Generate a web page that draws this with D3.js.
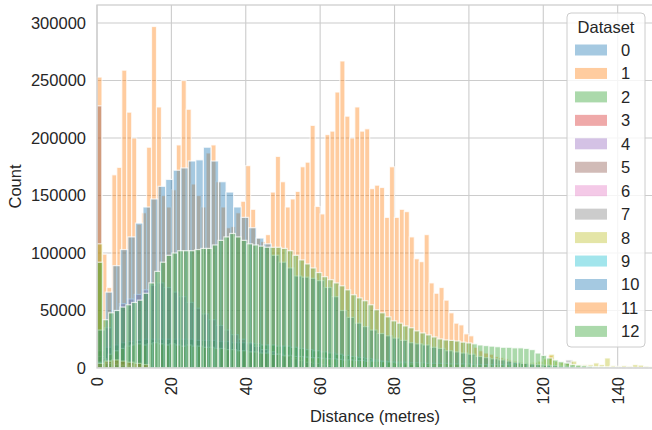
<!DOCTYPE html>
<html>
<head>
<meta charset="utf-8">
<script src="https://cdn.jsdelivr.net/npm/d3@7"></script>
<style>
  html, body { margin: 0; padding: 0; background: #fff; }
  svg { display: block; font-family: "Liberation Sans", Arial, sans-serif; }
</style>
</head>
<body>
<svg id="chart" width="652" height="430"></svg>
<script>
// ---------- data ----------
const datasets = ["0","1","2","3","4","5","6","7","8","9","10","11","12"];
const xTicks = [0, 20, 40, 60, 80, 100, 120, 140];
const yTicks = [0, 50000, 100000, 150000, 200000, 250000, 300000];

// histogram bins per dataset (metres): start of first bin and bin width
const binStart = [0, 0, 0, 0, 0, 0, 0, 124, 0, 0, 0.19, 0, 0];
const binWidth = [2, 1.333, 2, 2, 2, 1.3, 2, 2, 1.5, 2, 2.03, 2, 1.55];

const ds0 = [3000, 5000, 6000, 6000, 5000, 4000, 3000, 2000];
const ds1 = [253000, 99000, 70000, 168000, 174500, 259000, 222500, 200000, 125000, 135000,
  192000, 297000, 227000, 150000, 140000, 155000, 194000, 250000, 225000, 160000,
  150000, 140000, 187000, 194000, 162000, 140000, 122000, 123000, 135000, 145000,
  176000, 138000, 113000, 110000, 116000, 153000, 184000, 162000, 140000, 147000,
  153600, 175000, 179000, 211000, 140500, 134000, 203000, 206000, 240000, 267000,
  219000, 200000, 227000, 206000, 208000, 156000, 159000, 157000, 131000, 175000,
  131000, 138000, 136000, 114000, 95000, 92500, 116000, 74000, 65000, 70000,
  59000, 48000, 39000, 37500, 29700, 28000, 18000, 15000, 13000, 12000,
  10000, 9000, 8000, 7000, 6000, 5000, 4000, 3500, 3000, 2500,
  2000, 11000, 1500, 1000, 800, 600];
const ds2 = [15000, 18000, 20000, 22000, 23000, 24000, 25000, 25000, 25000, 25000,
  25000, 25000, 25000, 24000, 24000, 24000, 23000, 23000, 22000, 22000,
  21000, 21000, 20000, 20000, 19000, 19000, 18000, 17000, 16000, 15000,
  14000, 13000, 12000, 11000, 10000, 9000, 8000, 7000, 6000, 5000,
  4000, 3500, 3000, 2500, 2000, 1500, 1000];
const ds3 = [0, 3000, 4000, 3000, 2000, 1500, 1000];
const ds4 = [10000, 35000, 50000, 56000, 60000, 64000, 68000, 72000, 74000, 70000,
  66000, 62000, 57000, 52000, 47000, 42000, 37000, 33000, 29000, 25000,
  22000, 19000, 16000, 14000, 12000, 10000, 8000, 6500, 5000, 4000, 3000, 2000];
const ds5 = [228000, 8000, 6000, 5000, 4000, 3000, 2000];
const ds6 = [2000, 2500, 2000, 1500, 1000];
const ds7 = [1500, 7000, 1500];
const ds8 = [108000, 4000, 12000, 15000, 17000, 19000, 20000, 21000, 20000, 21000,
  22000, 21000, 20000, 21000, 20000, 19000, 20000, 19000, 19000, 18000,
  18000, 17000, 17000, 16000, 16000, 15000, 15000, 14000, 14000, 13000,
  13000, 12000, 12000, 11000, 11000, 10000, 10000, 9500, 9000, 9000,
  8500, 8000, 8000, 7500, 7000, 7000, 6500, 6500, 6000, 6000,
  6000, 5500, 5500, 5000, 5000, 5000, 4500, 4500, 4500, 4000,
  4000, 4000, 4000, 3500, 3500, 3500, 3500, 3000, 3000, 3000,
  3000, 3000, 3000, 3000, 3500, 4000, 4000, 4500, 5000, 6000,
  8000, 12000, 6000, 5000, 4000, 6000, 3000, 3000, 3000, 4400,
  3000, 8700, 2000, 1500, 2000, 1500, 3000, 2500, 1500, 1200];
const ds9 = [5000, 4000, 3000, 2000, 1500];
const ds10 = [33000, 66000, 89000, 103000, 114000, 126000, 140000, 147000, 158000, 164000,
  172000, 174000, 180000, 181000, 192000, 180000, 162000, 153000, 140000, 131000,
  122000, 113000, 108000, 98000, 92000, 87000, 80000, 79000, 78000, 76000,
  70000, 62000, 50000, 44000, 39000, 36000, 33000, 30000, 28000, 26000,
  24000, 22000, 21000, 20000, 18000, 17000, 15000, 14000, 13000, 12000,
  10000, 9000, 8000, 7000, 6000, 5000, 4000, 3500, 3000, 2500,
  2000, 1500, 1500, 1000, 1000, 1000, 800, 800, 600, 600, 500, 500, 400, 400];
const ds11 = [4000, 6000, 7000, 6000, 5000, 4000, 3000];
const ds12 = [92000, 42000, 48000, 50000, 53000, 55000, 57000, 59000, 65000, 74000,
  84000, 92000, 98000, 100000, 102000, 102000, 102000, 103000, 104000, 104000,
  107000, 111000, 114000, 117000, 114000, 111000, 108000, 107000, 106000, 105000,
  105000, 105000, 104000, 102000, 98000, 94000, 90500, 87000, 83000, 79400,
  76800, 74000, 71500, 68000, 63700, 61000, 58500, 55000, 50600, 48000,
  44500, 41000, 39000, 36600, 35000, 32300, 30500, 28800, 27000, 25300,
  24400, 24000, 23500, 22500, 21800, 21000, 20000, 19500, 19000, 18500,
  18000, 18000, 17500, 17500, 17000, 16000, 13000, 11000, 8700, 7000,
  5500, 4400, 3000, 2500, 2000, 1500, 1000, 1000, 800, 600];
const seriesValues = [ds0, ds1, ds2, ds3, ds4, ds5, ds6, ds7, ds8, ds9, ds10, ds11, ds12];

// ---------- layout ----------
(function draw() {
  const svg = d3.select("#chart");
  const pL = 97, pR = 653, pT = 5, pB = 368;
  const xMax = 149.5;
  const x = d3.scaleLinear().domain([0, xMax]).range([pL, pR]);
  const y = d3.scaleLinear().domain([0, 315700]).range([pB, pT]);
  const palette = d3.schemeCategory10;
  const color = i => palette[i % 10];
  const gridColor = "#cccccc";

  // grid
  const g = svg.append("g");
  g.selectAll(".vg").data(xTicks).join("line")
    .attr("x1", d => x(d)).attr("x2", d => x(d))
    .attr("y1", pT).attr("y2", pB)
    .attr("stroke", gridColor).attr("stroke-width", 1.1);
  g.selectAll(".hg").data(yTicks).join("line")
    .attr("x1", pL).attr("x2", pR)
    .attr("y1", d => y(d)).attr("y2", d => y(d))
    .attr("stroke", gridColor).attr("stroke-width", 1.1);

  // bars: layered, later datasets drawn on top
  const barsG = svg.append("g");
  for (let s = 0; s < datasets.length; s++) {
    const vals = seriesValues[s];
    const bars = vals.map((v, i) => ({
      x0: binStart[s] + i * binWidth[s],
      x1: binStart[s] + (i + 1) * binWidth[s],
      v
    })).filter(d => d.v > 0 && d.x0 < xMax);
    barsG.append("g").selectAll("rect").data(bars).join("rect")
      .attr("x", d => x(d.x0))
      .attr("width", d => Math.max(0, x(Math.min(d.x1, xMax)) - x(d.x0)))
      .attr("y", d => y(d.v))
      .attr("height", d => y(0) - y(d.v))
      .attr("fill", color(s))
      .attr("fill-opacity", 0.4)
      .attr("stroke", "#ffffff")
      .attr("stroke-opacity", 0.75)
      .attr("stroke-width", 1.2);
  }

  // frame (spines)
  svg.append("rect")
    .attr("x", pL).attr("y", pT)
    .attr("width", pR - pL).attr("height", pB - pT)
    .attr("fill", "none").attr("stroke", gridColor).attr("stroke-width", 1.25);

  // y tick labels
  svg.append("g").selectAll("text").data(yTicks).join("text")
    .attr("x", pL - 11).attr("y", d => y(d))
    .attr("dy", "0.36em")
    .attr("text-anchor", "end")
    .attr("font-size", 16.5)
    .attr("fill", "#262626")
    .text(d => d);

  // x tick labels (rotated)
  svg.append("g").selectAll("text").data(xTicks).join("text")
    .attr("transform", d => `translate(${x(d)},${pB + 9}) rotate(-90)`)
    .attr("dy", "0.36em")
    .attr("text-anchor", "end")
    .attr("font-size", 16.5)
    .attr("fill", "#262626")
    .text(d => d);

  // axis labels
  svg.append("text")
    .attr("x", (pL + pR) / 2).attr("y", 422)
    .attr("text-anchor", "middle")
    .attr("font-size", 16.5).attr("fill", "#262626")
    .text("Distance (metres)");
  svg.append("text")
    .attr("transform", `translate(21,${(pT + pB) / 2}) rotate(-90)`)
    .attr("text-anchor", "middle")
    .attr("font-size", 16.5).attr("fill", "#262626")
    .text("Count");

  // legend
  const lg = svg.append("g");
  lg.append("rect")
    .attr("x", 567).attr("y", 13).attr("width", 78).attr("height", 334)
    .attr("rx", 4)
    .attr("fill", "#ffffff").attr("fill-opacity", 0.8)
    .attr("stroke", "#cccccc").attr("stroke-width", 1);
  lg.append("text")
    .attr("x", 606).attr("y", 33)
    .attr("text-anchor", "middle")
    .attr("font-size", 16.5).attr("fill", "#262626")
    .text("Dataset");
  const items = lg.selectAll(".item").data(datasets).join("g")
    .attr("transform", (d, i) => `translate(0,${50 + i * 23.45})`);
  items.append("rect")
    .attr("x", 575).attr("y", -5.5).attr("width", 32).attr("height", 11)
    .attr("fill", (d, i) => color(i)).attr("fill-opacity", 0.4);
  items.append("text")
    .attr("x", 621).attr("y", 0).attr("dy", "0.36em")
    .attr("font-size", 16.5).attr("fill", "#262626")
    .text(d => d);
})();
</script>
</body>
</html>
